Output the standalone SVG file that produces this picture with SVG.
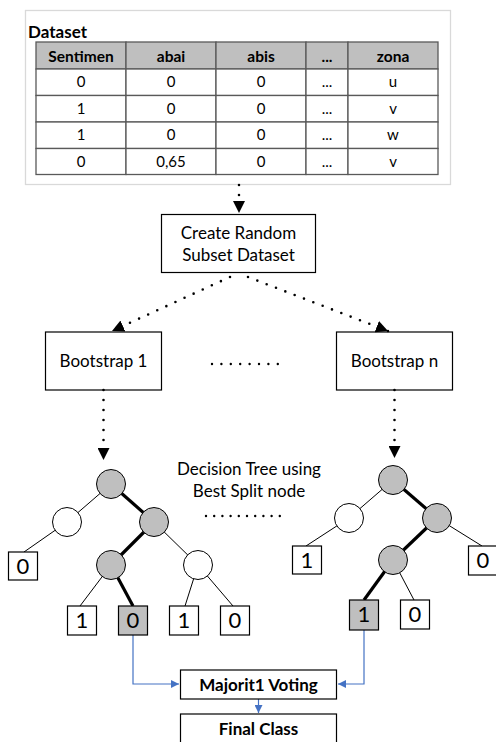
<svg xmlns="http://www.w3.org/2000/svg" width="496" height="742" viewBox="0 0 496 742">
<defs>
<style>
text{font-family:Lato,"Liberation Sans",sans-serif;fill:#000}
.t{font-size:17px;text-anchor:middle}
.th{font-size:15.5px;font-weight:bold;text-anchor:middle}
.td{font-size:15px;text-anchor:middle}
.leaf{font-size:22px;text-anchor:middle}
.b{font-size:17px;font-weight:bold;text-anchor:middle}
.box{fill:#fff;stroke:#000;stroke-width:1.2}
.cell{fill:#fff;stroke:#595959;stroke-width:1.3}
.hcell{fill:#bfbfbf;stroke:#595959;stroke-width:1.3}
.dot{fill:none;stroke:#000;stroke-width:2.6;stroke-linecap:round;stroke-dasharray:0 10}
.thin{stroke:#000;stroke-width:1;fill:none}
.thick{stroke:#000;stroke-width:3.2;fill:none}
.g{fill:#bfbfbf;stroke:#000;stroke-width:1}
.w{fill:#fff;stroke:#000;stroke-width:1}
.lg{fill:#bfbfbf;stroke:#000;stroke-width:1.2}
.lw{fill:#fff;stroke:#000;stroke-width:1.2}
.blue{fill:none;stroke:#4472c4;stroke-width:1.2}
</style>
<marker id="ah" viewBox="0 0 12 12" refX="12" refY="6" markerWidth="12" markerHeight="12" markerUnits="userSpaceOnUse" orient="auto">
<path d="M0,0 L12,6 L0,12 Z" fill="#000"/>
</marker>
<marker id="bh" viewBox="0 0 8 8" refX="8" refY="4" markerWidth="8" markerHeight="8" markerUnits="userSpaceOnUse" orient="auto">
<path d="M0,0 L8,4 L0,8 Z" fill="#4472c4"/>
</marker>
</defs>
<rect width="496" height="742" fill="#fff"/>

<g id="dataset">
<rect x="25.5" y="10.5" width="425" height="174" fill="#fff" stroke="#d9d9d9" stroke-width="1.3"/>
<text x="28" y="37.5" style="font-size:17px;font-weight:bold">Dataset</text>
<rect class="hcell" x="36" y="42" width="90" height="27"/>
<rect class="hcell" x="126" y="42" width="90" height="27"/>
<rect class="hcell" x="216" y="42" width="90" height="27"/>
<rect class="hcell" x="306" y="42" width="42" height="27"/>
<rect class="hcell" x="348" y="42" width="90" height="27"/>
<g>
<rect class="cell" x="36" y="69" width="90" height="26.5"/><rect class="cell" x="126" y="69" width="90" height="26.5"/><rect class="cell" x="216" y="69" width="90" height="26.5"/><rect class="cell" x="306" y="69" width="42" height="26.5"/><rect class="cell" x="348" y="69" width="90" height="26.5"/>
<rect class="cell" x="36" y="95.5" width="90" height="26.5"/><rect class="cell" x="126" y="95.5" width="90" height="26.5"/><rect class="cell" x="216" y="95.5" width="90" height="26.5"/><rect class="cell" x="306" y="95.5" width="42" height="26.5"/><rect class="cell" x="348" y="95.5" width="90" height="26.5"/>
<rect class="cell" x="36" y="122" width="90" height="26.5"/><rect class="cell" x="126" y="122" width="90" height="26.5"/><rect class="cell" x="216" y="122" width="90" height="26.5"/><rect class="cell" x="306" y="122" width="42" height="26.5"/><rect class="cell" x="348" y="122" width="90" height="26.5"/>
<rect class="cell" x="36" y="148.5" width="90" height="26"/><rect class="cell" x="126" y="148.5" width="90" height="26"/><rect class="cell" x="216" y="148.5" width="90" height="26"/><rect class="cell" x="306" y="148.5" width="42" height="26"/><rect class="cell" x="348" y="148.5" width="90" height="26"/>
</g>
<text class="th" x="81" y="61.5">Sentimen</text><text class="th" x="171" y="61.5">abai</text><text class="th" x="261" y="61.5">abis</text><text class="th" x="327" y="61.5">...</text><text class="th" x="393" y="61.5">zona</text>
<text class="td" x="81" y="87">0</text><text class="td" x="171" y="87">0</text><text class="td" x="261" y="87">0</text><text class="td" x="327" y="87">...</text><text class="td" x="393" y="87">u</text>
<text class="td" x="81" y="113.5">1</text><text class="td" x="171" y="113.5">0</text><text class="td" x="261" y="113.5">0</text><text class="td" x="327" y="113.5">...</text><text class="td" x="393" y="113.5">v</text>
<text class="td" x="81" y="140">1</text><text class="td" x="171" y="140">0</text><text class="td" x="261" y="140">0</text><text class="td" x="327" y="140">...</text><text class="td" x="393" y="140">w</text>
<text class="td" x="81" y="166.5">0</text><text class="td" x="171" y="166.5">0,65</text><text class="td" x="261" y="166.5">0</text><text class="td" x="327" y="166.5">...</text><text class="td" x="393" y="166.5">v</text>
</g>

<g id="create">
<rect class="box" x="161.5" y="214.5" width="154" height="58"/>
<text class="t" x="238.5" y="239">Create Random</text>
<text class="t" x="238.5" y="261">Subset Dataset</text>
</g>

<g id="bootstrap1">
<rect class="box" x="45.5" y="332" width="116" height="58"/>
<text class="t" x="103.5" y="367">Bootstrap 1</text>
</g>
<g id="bootstrapn">
<rect class="box" x="336.5" y="332" width="116" height="58"/>
<text class="t" x="394.5" y="367">Bootstrap n</text>
</g>
<g id="dots1"><line class="dot" x1="212" y1="364" x2="287" y2="364" style="stroke-dasharray:0 9.4;stroke-width:2.4"/></g>

<g id="label">
<text class="t" x="249" y="475">Decision Tree using</text>
<text class="t" x="249" y="497">Best Split node</text>
<line class="dot" x1="206" y1="516" x2="280" y2="516" style="stroke-dasharray:0 8.2;stroke-width:2.4"/>
</g>

<g id="connectors">
<line class="dot" x1="239" y1="185" x2="239" y2="213" marker-end="url(#ah)"/>
<line class="dot" x1="230" y1="277" x2="112" y2="331" marker-end="url(#ah)"/>
<line class="dot" x1="248" y1="277" x2="388" y2="331" marker-end="url(#ah)"/>
<line class="dot" x1="103.5" y1="390" x2="103.5" y2="460" marker-end="url(#ah)"/>
<line class="dot" x1="394.5" y1="390" x2="394.5" y2="458" marker-end="url(#ah)"/>
<polyline class="blue" points="133,635 133,684 179,684" marker-end="url(#bh)"/>
<polyline class="blue" points="364,630 364,684 338,684" marker-end="url(#bh)"/>
<line class="blue" x1="258.5" y1="699" x2="258.5" y2="713" marker-end="url(#bh)"/>
</g>

<g id="tree1">
<line class="thin" x1="111" y1="484" x2="67" y2="522"/>
<line class="thick" x1="111" y1="484" x2="154" y2="522"/>
<line class="thin" x1="67" y1="522" x2="24" y2="552"/>
<line class="thick" x1="154" y1="522" x2="111" y2="565"/>
<line class="thin" x1="154" y1="522" x2="198" y2="565"/>
<line class="thin" x1="111" y1="565" x2="80" y2="606"/>
<line class="thick" x1="111" y1="565" x2="133" y2="606"/>
<line class="thin" x1="198" y1="565" x2="185" y2="606"/>
<line class="thin" x1="198" y1="565" x2="233" y2="606"/>
<circle class="g" cx="111" cy="484" r="14.5"/>
<circle class="w" cx="67" cy="522" r="14.5"/>
<circle class="g" cx="154" cy="522" r="14.5"/>
<circle class="g" cx="111" cy="565" r="14.5"/>
<circle class="w" cx="198" cy="565" r="14.5"/>
<rect class="lw" x="8.5" y="552" width="29" height="28"/><text class="leaf" x="23" y="574">0</text>
<rect class="lw" x="67.5" y="606" width="29" height="29"/><text class="leaf" x="82" y="628">1</text>
<rect class="lg" x="118.5" y="606" width="29" height="29"/><text class="leaf" x="133" y="628">0</text>
<rect class="lw" x="169.5" y="606" width="29" height="29"/><text class="leaf" x="184" y="628">1</text>
<rect class="lw" x="220.5" y="606" width="29" height="29"/><text class="leaf" x="235" y="628">0</text>
</g>

<g id="tree2">
<line class="thin" x1="393" y1="480" x2="349" y2="518"/>
<line class="thick" x1="393" y1="480" x2="437" y2="518"/>
<line class="thin" x1="349" y1="518" x2="306" y2="546"/>
<line class="thick" x1="437" y1="518" x2="393" y2="560"/>
<line class="thin" x1="437" y1="518" x2="482" y2="546"/>
<line class="thick" x1="393" y1="560" x2="364" y2="600"/>
<line class="thin" x1="393" y1="560" x2="414" y2="600"/>
<circle class="g" cx="393" cy="480" r="14.5"/>
<circle class="w" cx="349" cy="518" r="14.5"/>
<circle class="g" cx="437" cy="518" r="14.5"/>
<circle class="g" cx="393" cy="560" r="14.5"/>
<rect class="lw" x="292.5" y="546" width="29" height="28"/><text class="leaf" x="307" y="568">1</text>
<rect class="lw" x="468.5" y="546" width="29" height="29"/><text class="leaf" x="483" y="568">0</text>
<rect class="lg" x="349.5" y="600" width="29" height="30"/><text class="leaf" x="364" y="622">1</text>
<rect class="lw" x="400.5" y="600" width="29" height="29"/><text class="leaf" x="415" y="622">0</text>
</g>

<g id="voting">
<rect class="box" x="180.5" y="670" width="156" height="29"/>
<text class="b" x="258.5" y="690.5">Majorit1 Voting</text>
</g>
<g id="final">
<rect class="box" x="180.5" y="714" width="156" height="40"/>
<text class="b" x="258.5" y="735">Final Class</text>
</g>
</svg>
